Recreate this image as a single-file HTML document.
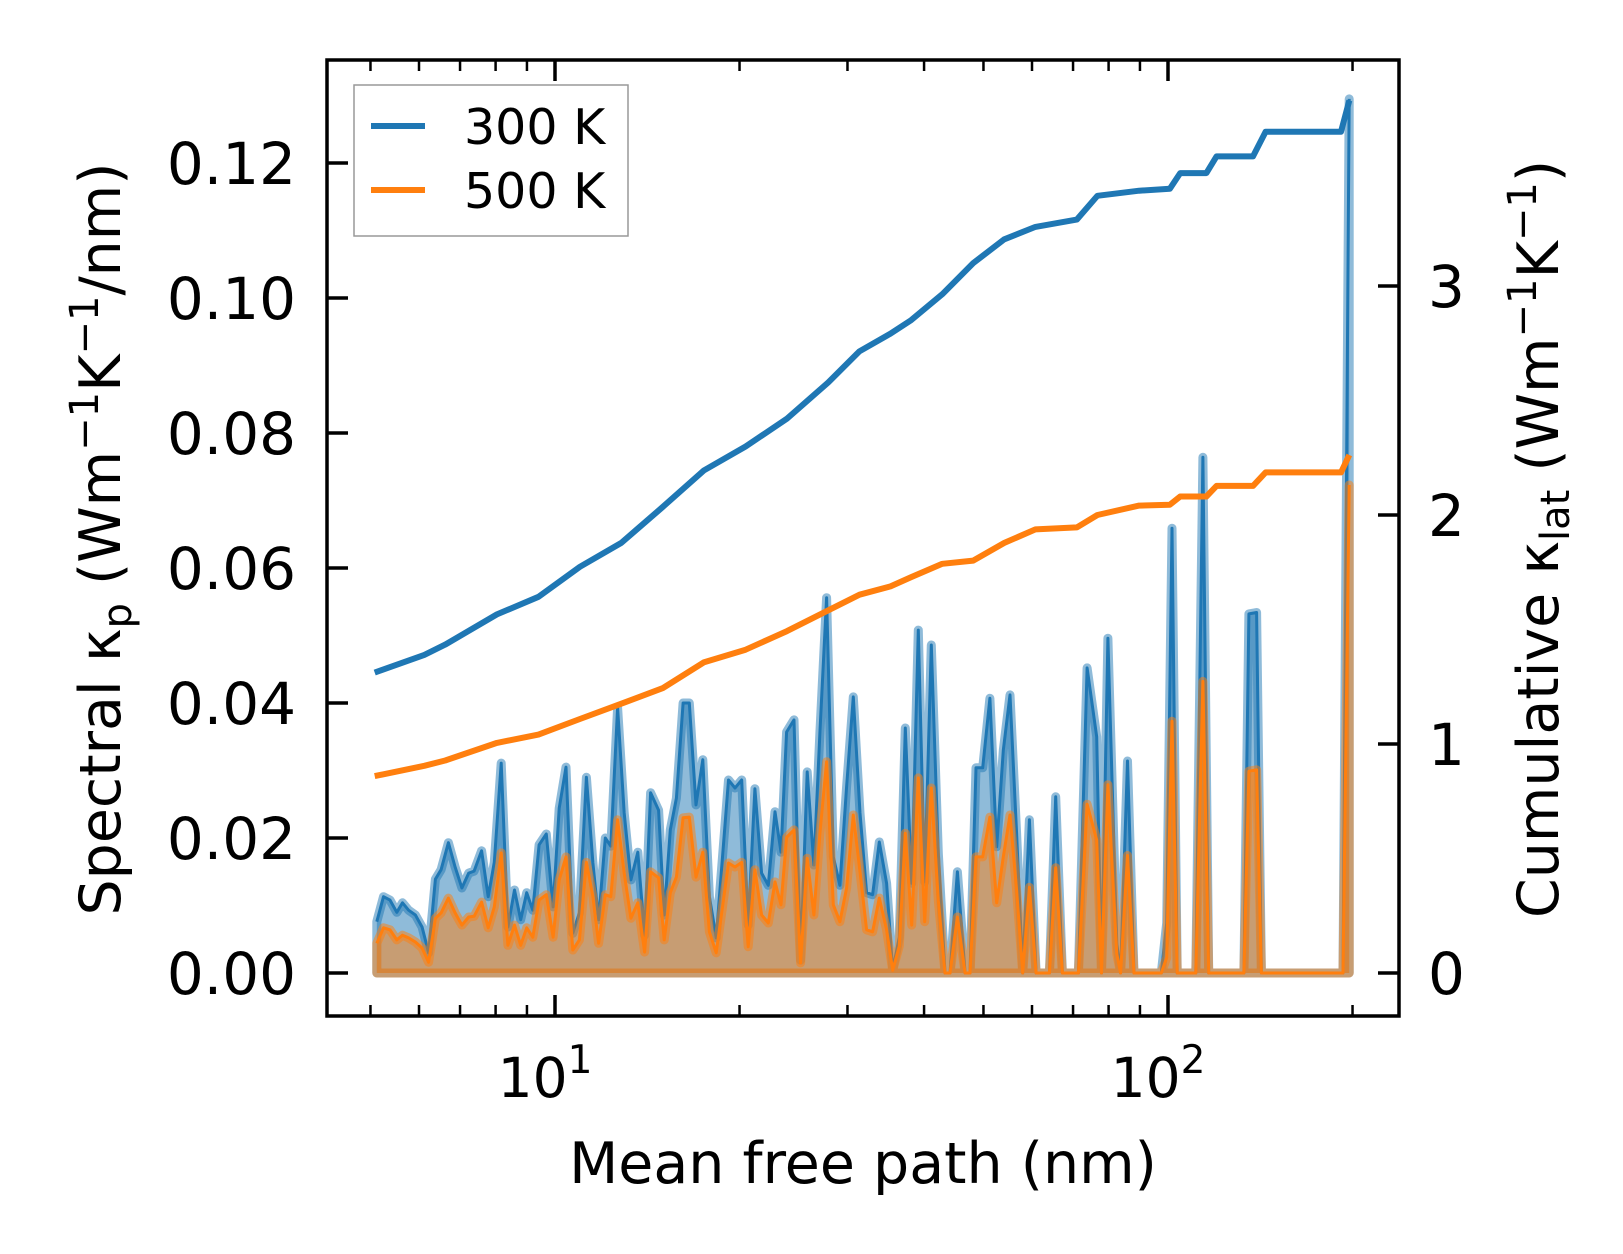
<!DOCTYPE html>
<html><head><meta charset="utf-8"><style>
html,body{margin:0;padding:0;background:#fff;}
svg{display:block;font-family:"DejaVu Sans","Liberation Sans",sans-serif;}
</style></head><body>
<svg id="chart" width="1623" height="1254" viewBox="0 0 1623 1254">
<g id="series"></g>
<g id="axes"></g>
<g id="legend">
  <rect x="354" y="85" width="274" height="151" fill="#fff" fill-opacity="0.8" stroke="#999" stroke-width="1.5"/>
  <line x1="371" y1="126" x2="425" y2="126" stroke="#1f77b4" stroke-width="6"/>
  <text x="464" y="144" font-size="49">300 K</text>
  <line x1="371" y1="190" x2="425" y2="190" stroke="#ff7f0e" stroke-width="6"/>
  <text x="464" y="208" font-size="49">500 K</text>
</g>
<text x="863" y="1183" font-size="57" text-anchor="middle">Mean free path (nm)</text>
<text transform="translate(120,539) rotate(-90)" font-size="57" text-anchor="middle">Spectral κ<tspan font-size="40" dy="11">p</tspan><tspan dy="-11"> (Wm</tspan><tspan font-size="40" dy="-22">−1</tspan><tspan dy="22">K</tspan><tspan font-size="40" dy="-22">−1</tspan><tspan dy="22">/nm)</tspan></text>
<text transform="translate(1558,539) rotate(-90)" font-size="57" text-anchor="middle">Cumulative κ<tspan font-size="40" dy="11">lat</tspan><tspan dy="-11"> (Wm</tspan><tspan font-size="40" dy="-22">−1</tspan><tspan dy="22">K</tspan><tspan font-size="40" dy="-22">−1</tspan><tspan dy="22">)</tspan></text>
</svg>
<script>
const mfp = [5.12,5.25,5.38,5.52,5.64,5.77,5.92,6.07,6.22,6.38,6.52,6.70,6.87,7.05,7.23,7.38,7.59,7.78,7.96,8.17,8.38,8.59,8.79,8.99,9.20,9.42,9.68,9.93,10.16,10.42,10.69,10.96,11.25,11.53,11.78,12.08,12.33,12.65,12.97,13.30,13.65,14.00,14.32,14.76,15.07,15.42,15.78,16.18,16.56,16.98,17.42,17.86,18.32,19.19,
19.66,20.16,20.66,21.19,21.73,22.28,22.85,23.37,23.87,24.54,25.16,25.79,26.45,27.05,27.74,28.44,29.16,29.90,30.66,31.44,32.23,32.97,33.81,34.75,35.55,36.45,37.28,38.18,39.15,40.09,41.11,42.20,43.27,44.09,45.33,46.66,47.53,48.62,49.85,51.23,52.54,53.87,55.24,56.63,57.94,59.41,60.92,62.46,64.05,65.59,67.25,68.78,71.42,
73.8,76.5,77.9,79.8,82.5,83.7,85.9,88.0,97.5,99.5,101.5,103.5,111,114,116.5,133,135.5,139.5,142,193,197.5];
const spec300 = [0.0076,0.0113,0.0108,0.0090,0.0104,0.0093,0.0086,0.0068,0.0030,0.0139,0.0153,0.0193,0.0157,0.0126,0.0148,0.0151,0.0181,0.0113,0.0164,0.0311,0.0068,0.0123,0.0079,0.0119,0.0093,0.0190,0.0206,0.0098,0.0244,0.0305,0.0059,0.0089,0.0290,0.0163,0.0079,0.0200,0.0188,0.0393,0.0237,0.0138,0.0179,0.0056,0.0267,0.0241,0.0086,0.0212,0.0259,0.0400,0.0400,0.0249,0.0316,0.0113,0.0052,0.0286,
0.0274,0.0286,0.0071,0.0273,0.0148,0.0130,0.0239,0.0179,0.0357,0.0375,0.0019,0.0298,0.0160,0.0356,0.0556,0.0172,0.0130,0.0276,0.0409,0.0237,0.0119,0.0116,0.0194,0.0133,0.0004,0.0053,0.0363,0.0133,0.0508,0.0135,0.0486,0.0178,0,0,0.0150,0,0,0.0304,0.0304,0.0407,0.0187,0.0330,0.0412,0.0207,0,0.0227,0,0,0,0.0261,0,0,0,
0.0452,0.0350,0,0.0496,0.0043,0,0.0314,0,0,0.0074,0.0659,0,0,0.0764,0,0,0.0532,0.0534,0,0,0.1295];
const spec500 = [0.0044,0.0067,0.0064,0.0049,0.0056,0.0052,0.0046,0.0037,0.0016,0.0081,0.0089,0.0111,0.0089,0.0071,0.0083,0.0084,0.0105,0.0067,0.0098,0.0178,0.0041,0.0071,0.0041,0.0067,0.0053,0.0108,0.0116,0.0053,0.0138,0.0172,0.0034,0.0049,0.0164,0.0113,0.0044,0.0116,0.0113,0.0227,0.0148,0.0081,0.0104,0.0031,0.0150,0.0141,0.0049,0.0119,0.0142,0.0230,0.0231,0.0142,0.0179,0.0061,0.0030,0.0163,
0.0157,0.0164,0.0039,0.0153,0.0086,0.0074,0.0135,0.0101,0.0201,0.0212,0.0015,0.0170,0.0086,0.0207,0.0313,0.0101,0.0076,0.0126,0.0234,0.0150,0.0064,0.0061,0.0111,0.0064,0.0004,0.0040,0.0207,0.0071,0.0289,0.0076,0.0274,0.0108,0,0,0.0083,0,0,0.0172,0.0172,0.0231,0.0104,0.0172,0.0234,0.0123,0,0.0127,0,0,0,0.0156,0,0,0,
0.0250,0.0197,0,0.0279,0.0028,0,0.0174,0,0,0.0023,0.0373,0,0,0.0432,0,0,0.0299,0.0301,0,0,0.0723];
const cumMfp = [5.08,6.12,6.62,8.04,9.40,10.98,12.83,15.00,17.51,20.46,23.90,27.92,31.39,35.26,38.11,42.84,48.11,54.06,60.77,71.0,76.7,89.7,100.7,104.7,115.5,120.0,137.6,144.3,191.5,197.6];
const cum300 = [1.312,1.389,1.434,1.566,1.643,1.774,1.878,2.036,2.195,2.299,2.421,2.579,2.715,2.792,2.851,2.964,3.100,3.204,3.258,3.290,3.394,3.416,3.425,3.493,3.493,3.566,3.566,3.674,3.674,3.810];
const cum500 = [0.860,0.905,0.928,1.005,1.041,1.109,1.176,1.244,1.357,1.412,1.493,1.584,1.652,1.688,1.729,1.787,1.801,1.878,1.937,1.946,2.000,2.041,2.045,2.081,2.081,2.127,2.127,2.186,2.186,2.262];
const leftTicks = [0,0.02,0.04,0.06,0.08,0.10,0.12];
const leftTickLabels = ["0.00","0.02","0.04","0.06","0.08","0.10","0.12"];
const rightTicks = [0,1,2,3];
const xMajor = [10,100];
const xMinor = [5,6,7,8,9,20,30,40,50,60,70,80,90,200];

const L=327,R=1399,T=60,B=1016;
const NS='http://www.w3.org/2000/svg';
const xs = v => 555 + (Math.log10(v)-1)*613;
const yl = v => 973 - v*6750;
const yr = v => 973 - v*229;
function mk(tag, attrs, parent){const e=document.createElementNS(NS,tag);for(const k in attrs)e.setAttribute(k,attrs[k]);parent.appendChild(e);return e;}
const S=document.getElementById('series'), A=document.getElementById('axes');

function drawSpec(vals,color,name){
  let pts = mfp.map((m,i)=>xs(m).toFixed(1)+','+yl(vals[i]).toFixed(1));
  const poly = 'M'+xs(mfp[0]).toFixed(1)+','+yl(0)+' L'+pts.join(' L')+' L'+xs(mfp[mfp.length-1]).toFixed(1)+','+yl(0)+' Z';
  const f = mk('path',{d:poly,fill:color,'fill-opacity':0.5,stroke:color,'stroke-opacity':0.5,'stroke-width':9,'stroke-linejoin':'round'},S);
  
  
  const l = mk('polyline',{points:pts.join(' '),fill:'none',stroke:color,'stroke-width':3,'stroke-linejoin':'round'},S);
  
  
}
drawSpec(spec300,'#1f77b4','spectral-300k');
drawSpec(spec500,'#ff7f0e','spectral-500k');
function drawCum(vals,color,name){
  const pts = cumMfp.map((m,i)=>xs(m).toFixed(1)+','+yr(vals[i]).toFixed(1)).join(' ');
  const l = mk('polyline',{points:pts,fill:'none',stroke:color,'stroke-width':6,'stroke-linejoin':'round'},S);
  
  
}
drawCum(cum300,'#1f77b4','cumulative-300k');
drawCum(cum500,'#ff7f0e','cumulative-500k');

const frame = mk('rect',{x:L,y:T,width:R-L,height:B-T,fill:'none',stroke:'#000','stroke-width':3.5},A);


leftTicks.forEach((v,i)=>{
  const y=yl(v);
  const t=mk('line',{x1:L,x2:L+21,y1:y,y2:y,stroke:'#000','stroke-width':3.5},A);
  
  
  const tx=mk('text',{x:296,y:y+21,'font-size':58,'text-anchor':'end'},A);
  tx.textContent=leftTickLabels[i];
  
  
});
rightTicks.forEach(v=>{
  const y=yr(v);
  const t=mk('line',{x1:R-21,x2:R,y1:y,y2:y,stroke:'#000','stroke-width':3.5},A);
  
  
  const tx=mk('text',{x:1428,y:y+21,'font-size':58},A);
  tx.textContent=String(v);
  
  
});
xMajor.forEach(v=>{
  const x=xs(v);
  [[B,B-21],[T,T+21]].forEach(([a,b])=>{
    const t=mk('line',{x1:x,x2:x,y1:a,y2:b,stroke:'#000','stroke-width':3.5},A);
    
    
  });
  const tx=mk('text',{x:x-10,y:1097,'font-size':55,'text-anchor':'middle'},A);
  
  
  tx.textContent='10';
  const sup=mk('tspan',{'font-size':39,dy:-24},tx);
  sup.textContent=String(Math.round(Math.log10(v)));
});
xMinor.forEach(v=>{
  const x=xs(v);
  [[B,B-11],[T,T+11]].forEach(([a,b])=>{
    const t=mk('line',{x1:x,x2:x,y1:a,y2:b,stroke:'#000','stroke-width':2.5},A);
    
    
  });
});
</script>
</body></html>
